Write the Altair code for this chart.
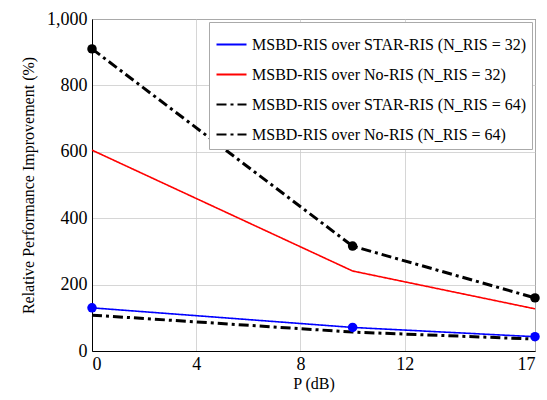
import altair as alt
import pandas as pd

P_dB = [0, 10, 17]
series_names = [
    "MSBD-RIS over STAR-RIS (N_RIS = 32)",
    "MSBD-RIS over No-RIS (N_RIS = 32)",
    "MSBD-RIS over STAR-RIS (N_RIS = 64)",
    "MSBD-RIS over No-RIS (N_RIS = 64)",
]
star_32 = [130, 71, 43]
norIS_32 = [605, 241, 127]
star_64 = [108, 57, 36]
noris_64 = [910, 316, 160]
has_marker = [True, False, False, True]

colors = ["#0000ff", "#ff0000", "#000000", "#000000"]
dashes = [[1, 0], [1, 0], [10, 4, 3, 4], [10, 4, 3, 4]]
widths = [1.6, 1.6, 3.0, 3.0]

rows = []
for name, vals, mk, w in zip(series_names, [star_32, norIS_32, star_64, noris_64], has_marker, widths):
    for x, y in zip(P_dB, vals):
        rows.append({"P": x, "val": y, "series": name, "marker": mk, "sw": w})
df = pd.DataFrame(rows)

FONT = "Liberation Serif"

base = alt.Chart(df)

x_enc = alt.X("P:Q", scale=alt.Scale(domain=[0, 17], nice=False),
              axis=alt.Axis(values=[0, 4, 8, 12, 17], title="P (dB)", grid=True, ticks=False,
                            labelPadding=4, titlePadding=2))
y_enc = alt.Y("val:Q", scale=alt.Scale(domain=[0, 1000], nice=False),
              axis=alt.Axis(values=[0, 200, 400, 600, 800, 1000], format=",.0f", grid=True, ticks=False,
                            title="Relative Performance Improvement (%)", labelPadding=5, titlePadding=10))

lines = base.mark_line().encode(
    x=x_enc,
    y=y_enc,
    color=alt.Color("series:N", scale=alt.Scale(domain=series_names, range=colors),
                    sort=series_names,
                    legend=alt.Legend(title=None, orient="top-right", symbolType="stroke")),
    strokeDash=alt.StrokeDash("series:N", scale=alt.Scale(domain=series_names, range=dashes),
                              sort=series_names, legend=alt.Legend(title=None, orient="top-right", symbolType="stroke")),
    strokeWidth=alt.StrokeWidth("sw:Q", scale=None, legend=None),
)

points = base.transform_filter("datum.marker").mark_point(filled=True, size=90, opacity=1).encode(
    x="P:Q",
    y="val:Q",
    color=alt.Color("series:N", scale=alt.Scale(domain=series_names, range=colors), legend=None),
)

chart = alt.layer(lines, points).properties(
    width=443, height=332,
    autosize=alt.AutoSizeParams(type="none"),
    padding={"left": 92, "top": 19, "right": 12, "bottom": 49},
).configure(
    font=FONT
).configure_view(
    stroke="#222", strokeWidth=1
).configure_axis(
    labelFont=FONT, titleFont=FONT, labelFontSize=18, titleFontSize=16,
    labelColor="#000", titleColor="#000", titleFontWeight="normal",
    gridColor="#cccccc", gridWidth=0.8, domainColor="#000", domainWidth=1,
).configure_legend(
    labelFont=FONT, labelFontSize=16, labelColor="#000", labelLimit=400,
    strokeColor="#aaaaaa", fillColor="white", padding=6, offset=3,
    symbolSize=900, symbolStrokeWidth=2.2, rowPadding=5, cornerRadius=0,
)

chart.save("out.html", embed_options={"renderer": "svg", "actions": False})
